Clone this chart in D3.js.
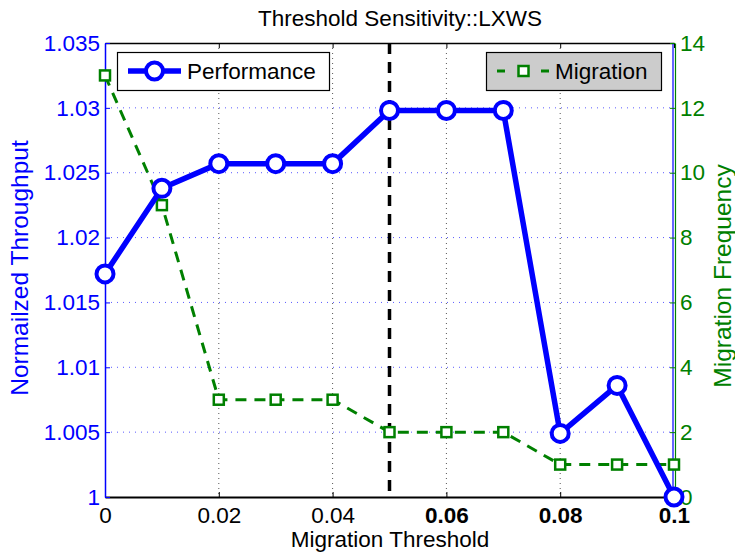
<!DOCTYPE html>
<html>
<head>
<meta charset="utf-8">
<script src="https://cdn.jsdelivr.net/npm/d3@7"></script>
<style>
  html, body { margin: 0; padding: 0; background: #fff; }
  svg { display: block; font-family: "Liberation Sans", Arial, sans-serif; }
</style>
</head>
<body>
<svg id="chart" width="735" height="555"></svg>
<script>
// Migration threshold sweep
const thresholds = [0, 0.01, 0.02, 0.03, 0.04, 0.05, 0.06, 0.07, 0.08, 0.09, 0.1];
const performance = [1.0172, 1.0238, 1.0257, 1.0257, 1.0257, 1.0298, 1.0298, 1.0298, 1.0049, 1.0086, 1.0000];
const migration = [13, 9, 3, 3, 3, 2, 2, 2, 1, 1, 1];
const selectedThreshold = 0.05;

const xTicks = [0, 0.02, 0.04, 0.06, 0.08, 0.1];
const xTickLabels = ["0", "0.02", "0.04", "0.06", "0.08", "0.1"];
const leftTicks = [1, 1.005, 1.01, 1.015, 1.02, 1.025, 1.03, 1.035];
const leftTickLabels = ["1", "1.005", "1.01", "1.015", "1.02", "1.025", "1.03", "1.035"];
const rightTicks = [0, 2, 4, 6, 8, 10, 12, 14];

const BLUE = "#0000ff", GREEN = "#008000";
const FONT = "Liberation Sans, Arial, sans-serif";
const svg = d3.select("#chart");
const L = 105, R = 674, T = 43, B = 497;

const x = d3.scaleLinear().domain([0, 0.1]).range([L, R]);
const yL = d3.scaleLinear().domain([1, 1.035]).range([B, T]);
const yR = d3.scaleLinear().domain([0, 14]).range([B, T]);

// grid
svg.append("g").selectAll("line").data(xTicks.slice(1, -1)).join("line")
  .attr("x1", d => x(d)).attr("x2", d => x(d)).attr("y1", T).attr("y2", B)
  .attr("stroke", "#555").attr("stroke-width", 1).attr("stroke-dasharray", "1,4");
svg.append("g").selectAll("line").data(leftTicks.slice(1, -1)).join("line")
  .attr("x1", L).attr("x2", R).attr("y1", d => yL(d)).attr("y2", d => yL(d))
  .attr("stroke", "#5a5aff").attr("stroke-width", 1).attr("stroke-dasharray", "1,5");

// axes
const axBottom = svg.append("g").attr("transform", `translate(0,${B})`)
  .call(d3.axisBottom(x).tickValues(xTicks).tickSizeInner(-5).tickSizeOuter(0).tickFormat((d, i) => xTickLabels[i]));
axBottom.select(".domain").attr("stroke", "#000").attr("stroke-width", 2);
axBottom.selectAll(".tick line").attr("stroke", "#000");
axBottom.selectAll(".tick text").attr("fill", "#000").attr("font-size", 22.5).attr("dy", "0")
  .attr("y", 26).attr("font-weight", (d, i) => i >= 3 ? "bold" : "normal")
  .attr("font-family", FONT);

const axTop = svg.append("g").attr("transform", `translate(0,${T})`)
  .call(d3.axisTop(x).tickValues(xTicks).tickSizeInner(-5).tickSizeOuter(0).tickFormat(""));
axTop.select(".domain").attr("stroke", "#000").attr("stroke-width", 1.5);
axTop.selectAll(".tick line").attr("stroke", "#000");

const axLeft = svg.append("g").attr("transform", `translate(${L},0)`)
  .call(d3.axisLeft(yL).tickValues(leftTicks).tickSizeInner(-5).tickSizeOuter(0).tickFormat((d, i) => leftTickLabels[i]));
axLeft.select(".domain").attr("stroke", BLUE).attr("stroke-width", 1.5);
axLeft.selectAll(".tick line").attr("stroke", BLUE);
axLeft.selectAll(".tick text").attr("fill", BLUE).attr("font-size", 22.5).attr("x", -5)
  .attr("font-family", FONT);

svg.append("line").attr("x1", R - 1).attr("x2", R - 1).attr("y1", T).attr("y2", B)
  .attr("stroke", BLUE).attr("stroke-width", 1.2);
const axRight = svg.append("g").attr("transform", `translate(${R + 1},0)`)
  .call(d3.axisRight(yR).tickValues(rightTicks).tickSizeInner(-5).tickSizeOuter(0));
axRight.select(".domain").attr("stroke", GREEN).attr("stroke-width", 1.2);
axRight.selectAll(".tick line").attr("stroke", GREEN);
axRight.selectAll(".tick text").attr("fill", GREEN).attr("font-size", 22.5).attr("x", 5)
  .attr("font-family", FONT);

// selected threshold marker
svg.append("line").attr("x1", x(selectedThreshold)).attr("x2", x(selectedThreshold))
  .attr("y1", T).attr("y2", B).attr("stroke", "#000").attr("stroke-width", 3.5)
  .attr("stroke-dasharray", "11,8");

// migration series
const migLine = d3.line().x((d, i) => x(thresholds[i])).y(d => yR(d));
svg.append("path").datum(migration).attr("d", migLine).attr("fill", "none")
  .attr("stroke", GREEN).attr("stroke-width", 3).attr("stroke-dasharray", "11,8");
svg.append("g").selectAll("rect").data(migration).join("rect")
  .attr("x", (d, i) => x(thresholds[i]) - 5).attr("y", d => yR(d) - 5)
  .attr("width", 10).attr("height", 10).attr("fill", "#fff")
  .attr("stroke", GREEN).attr("stroke-width", 2.5);

// performance series
const perfLine = d3.line().x((d, i) => x(thresholds[i])).y(d => yL(d));
svg.append("path").datum(performance).attr("d", perfLine).attr("fill", "none")
  .attr("stroke", BLUE).attr("stroke-width", 5.5).attr("stroke-linejoin", "round");
svg.append("g").selectAll("circle").data(performance).join("circle")
  .attr("cx", (d, i) => x(thresholds[i])).attr("cy", d => yL(d)).attr("r", 8.5)
  .attr("fill", "#fff").attr("stroke", BLUE).attr("stroke-width", 4);

// legends
const lg1 = svg.append("g");
lg1.append("rect").attr("x", 117.5).attr("y", 52.5).attr("width", 212).attr("height", 38)
  .attr("fill", "#fff").attr("stroke", "#000").attr("stroke-width", 1.2);
lg1.append("line").attr("x1", 128).attr("x2", 181).attr("y1", 71).attr("y2", 71)
  .attr("stroke", BLUE).attr("stroke-width", 5.5);
lg1.append("circle").attr("cx", 154.5).attr("cy", 71).attr("r", 8.5)
  .attr("fill", "#fff").attr("stroke", BLUE).attr("stroke-width", 4);
lg1.append("text").attr("x", 187).attr("y", 79).attr("font-size", 22.5).attr("fill", "#000").text("Performance");

const lg2 = svg.append("g");
lg2.append("rect").attr("x", 486.5).attr("y", 52.5).attr("width", 175).attr("height", 38)
  .attr("fill", "#cccccc").attr("stroke", "#000").attr("stroke-width", 1.2);
lg2.append("line").attr("x1", 497).attr("x2", 549).attr("y1", 71).attr("y2", 71)
  .attr("stroke", GREEN).attr("stroke-width", 3).attr("stroke-dasharray", "8,44");
lg2.append("line").attr("x1", 541).attr("x2", 549).attr("y1", 71).attr("y2", 71)
  .attr("stroke", GREEN).attr("stroke-width", 3);
lg2.append("rect").attr("x", 518.5).attr("y", 66).attr("width", 10).attr("height", 10)
  .attr("fill", "#fff").attr("stroke", GREEN).attr("stroke-width", 2.5);
lg2.append("text").attr("x", 555).attr("y", 79).attr("font-size", 22.5).attr("fill", "#000").text("Migration");

// titles
svg.append("text").attr("x", 400).attr("y", 26).attr("text-anchor", "middle")
  .attr("font-size", 22.5).attr("fill", "#000").text("Threshold Sensitivity::LXWS");
svg.append("text").attr("x", 390).attr("y", 547).attr("text-anchor", "middle")
  .attr("font-size", 22.5).attr("fill", "#000").text("Migration Threshold");
svg.append("text").attr("transform", "translate(28,268) rotate(-90)")
  .attr("text-anchor", "middle").attr("font-size", 24.5).attr("fill", BLUE).text("Normailzed Throughput");
svg.append("text").attr("transform", "translate(731,276) rotate(-90)")
  .attr("text-anchor", "middle").attr("font-size", 24.5).attr("fill", GREEN).text("Migration Frequency");
</script>
</body>
</html>
